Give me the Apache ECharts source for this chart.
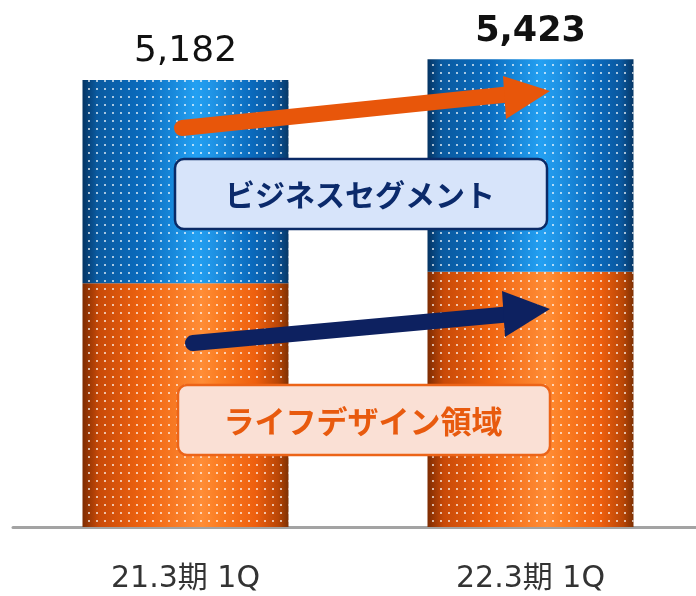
<!DOCTYPE html>
<html>
<head>
<meta charset="utf-8">
<script src="https://cdn.jsdelivr.net/npm/echarts@6/dist/echarts.min.js"></script>
<style>html,body{margin:0;padding:0;background:#fff;overflow:hidden;}#c{width:710px;height:596px;}</style>
</head>
<body>
<div id="c"></div>
<script>
var categories = ['21.3期 1Q', '22.3期 1Q'];
var lifeDesign = [2826, 2960];
var business = [2356, 2463];
var totals = [5182, 5423];
var boxLabels = ['ビジネスセグメント', 'ライフデザイン領域'];

var chart = echarts.init(document.getElementById('c'), null, {renderer: 'canvas'});

function grad(stops) {
  return new echarts.graphic.LinearGradient(0, 0, 1, 0, stops.map(function (s) { return {offset: s[0], color: s[1]}; }));
}
var blueFill = grad([[0, '#053463'], [0.07, '#0a5aa0'], [0.3, '#0a6cbf'], [0.55, '#23a0f2'], [0.63, '#1f94e6'], [0.82, '#0a6abd'], [0.94, '#0a579e'], [1, '#063766']]);
var orangeFill = grad([[0, '#7e2c02'], [0.08, '#c94a08'], [0.3, '#f06410'], [0.58, '#ff8d36'], [0.66, '#fb7d22'], [0.84, '#ee5f0e'], [0.95, '#b94606'], [1, '#7e3003']]);
var decal = {symbol: 'rect', symbolSize: 1, dashArrayX: [2, 6], dashArrayY: [2, 6], color: 'rgba(255,255,255,0.65)'};

function fmt(v) { return v.toString().replace(/\B(?=(\d{3})+(?!\d))/g, ','); }

var option = {
  animation: false,
  grid: {left: 13, width: 690, top: 9.5, bottom: 69},
  xAxis: {
    type: 'category', data: categories,
    axisLine: {lineStyle: {color: '#a3a3a3', width: 3}},
    axisTick: {show: false},
    axisLabel: {color: '#333', fontSize: 30, fontFamily: 'DejaVu Sans, Noto Sans CJK JP', margin: 37}
  },
  yAxis: {type: 'value', min: 0, max: 6000, show: false, splitLine: {show: false}},
  series: [
    {
      type: 'bar', stack: 't', data: lifeDesign, barWidth: 206,
      itemStyle: {color: orangeFill, decal: decal}
    },
    {
      type: 'bar', stack: 't', data: business, barWidth: 206,
      itemStyle: {color: blueFill, decal: decal},
      label: {
        show: true, position: 'top', distance: 10,
        formatter: function (p) {
          return p.dataIndex === 1 ? '{b|' + fmt(totals[p.dataIndex]) + '}' : '{n|' + fmt(totals[p.dataIndex]) + '}';
        },
        rich: {
          n: {fontSize: 36, color: '#111', fontFamily: 'DejaVu Sans'},
          b: {fontSize: 35, color: '#111', fontWeight: 'bold', fontFamily: 'DejaVu Sans'}
        }
      }
    }
  ],
  graphic: [
    {type: 'polyline', shape: {points: [[182, 128], [512, 94]]}, style: {stroke: '#e8560a', lineWidth: 16, lineCap: 'round', fill: null}, z: 10},
    {type: 'polygon', shape: {points: [[503, 76], [550, 91], [506, 119]]}, style: {fill: '#e8560a'}, z: 10},
    {type: 'polyline', shape: {points: [[193, 343], [512, 314]]}, style: {stroke: '#0d2160', lineWidth: 16, lineCap: 'round', fill: null}, z: 10},
    {type: 'polygon', shape: {points: [[502, 291], [550, 309], [505, 337]]}, style: {fill: '#0d2160'}, z: 10},
    {type: 'rect', shape: {x: 175, y: 159, width: 372, height: 70, r: 9}, style: {fill: '#d7e4fa', stroke: '#0b2a66', lineWidth: 2.5}, z: 11},
    {type: 'text', x: 360, y: 195, style: {text: boxLabels[0], fill: '#0b2a6b', font: 'bold 30px "Noto Sans CJK JP"', textAlign: 'center', textVerticalAlign: 'middle'}, z: 12},
    {type: 'rect', shape: {x: 178, y: 385, width: 372, height: 70, r: 9}, style: {fill: '#fae0d5', stroke: '#ec6418', lineWidth: 2.5}, z: 11},
    {type: 'text', x: 363, y: 421, style: {text: boxLabels[1], fill: '#e85a0e', font: 'bold 31px "Noto Sans CJK JP"', textAlign: 'center', textVerticalAlign: 'middle'}, z: 12}
  ]
};
chart.setOption(option);
</script>
</body>
</html>
